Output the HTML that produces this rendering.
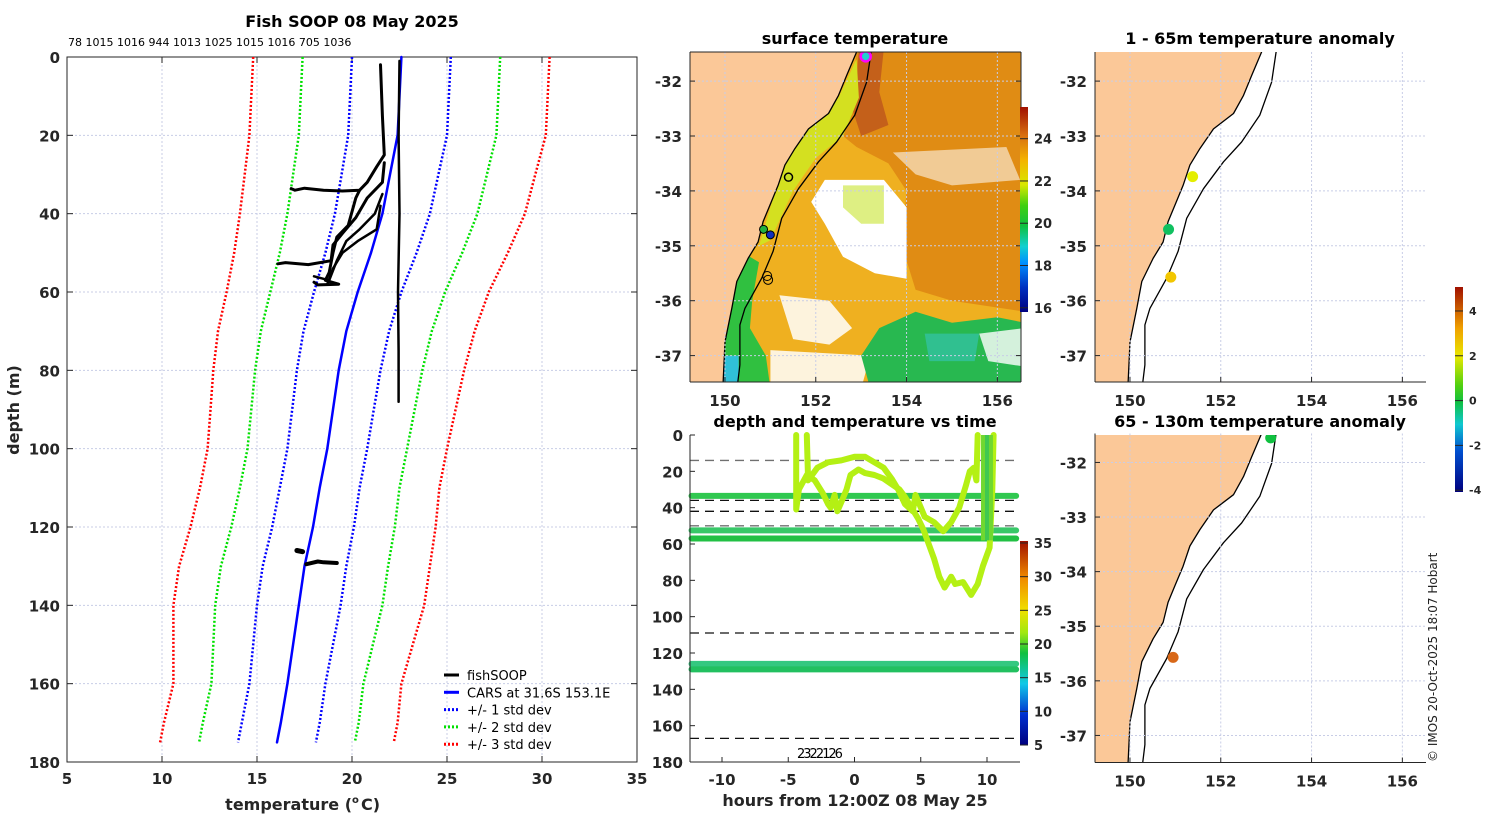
<!DOCTYPE html>
<html><head><meta charset="utf-8"><style>
html,body{margin:0;padding:0;background:#fff;}
svg{display:block;font-family:"DejaVu Sans","Liberation Sans",sans-serif;}
.tk{font-size:15px;font-weight:bold;fill:#262626;}
.ttl{font-size:16px;font-weight:bold;fill:#000;}
.cb{font-size:13px;font-weight:bold;fill:#262626;}
</style></head><body>
<svg id="fig" width="1500" height="820" viewBox="0 0 1500 820" xmlns="http://www.w3.org/2000/svg">
<defs>
<linearGradient id="gSST" x1="0" y1="1" x2="0" y2="0">
<stop offset="0" stop-color="#00007f"/><stop offset="0.12" stop-color="#0030c0"/><stop offset="0.24" stop-color="#0090ff"/><stop offset="0.32" stop-color="#10d0d0"/><stop offset="0.42" stop-color="#10c040"/><stop offset="0.52" stop-color="#40d010"/><stop offset="0.62" stop-color="#d8e800"/><stop offset="0.74" stop-color="#f4b400"/><stop offset="0.86" stop-color="#d87010"/><stop offset="1" stop-color="#a01000"/></linearGradient>
<linearGradient id="gTime" x1="0" y1="1" x2="0" y2="0">
<stop offset="0" stop-color="#00007f"/><stop offset="0.15" stop-color="#0030d0"/><stop offset="0.3" stop-color="#10c8e8"/><stop offset="0.45" stop-color="#10c040"/><stop offset="0.55" stop-color="#a0e810"/><stop offset="0.66" stop-color="#f0e000"/><stop offset="0.82" stop-color="#f08a00"/><stop offset="1" stop-color="#a01000"/></linearGradient>
<linearGradient id="gAno" x1="0" y1="1" x2="0" y2="0">
<stop offset="0" stop-color="#00007f"/><stop offset="0.2" stop-color="#0050d0"/><stop offset="0.33" stop-color="#10c8d0"/><stop offset="0.44" stop-color="#10c040"/><stop offset="0.52" stop-color="#50d010"/><stop offset="0.66" stop-color="#e8e800"/><stop offset="0.8" stop-color="#f0a000"/><stop offset="1" stop-color="#a01000"/></linearGradient>
<clipPath id="clipMid"><rect x="690" y="52" width="331" height="330"/></clipPath>
<clipPath id="clipR1"><rect x="1095" y="52" width="331" height="330"/></clipPath>
<clipPath id="clipR2"><rect x="1095" y="435" width="331" height="328"/></clipPath>
</defs>
</svg>
<script>
// ---------- data ----------
const depths=[0,10,20,30,40,50,60,70,80,90,100,110,120,130,140,150,160,170,175];
const carsMean=[22.6,22.5,22.4,22.0,21.6,21.0,20.3,19.7,19.3,19.0,18.7,18.3,17.95,17.5,17.2,16.9,16.6,16.25,16.05];
const carsStd=[2.6,2.6,2.6,2.55,2.5,2.4,2.3,2.25,2.2,2.15,2.1,2.1,2.15,2.2,2.2,2.1,2.0,2.05,2.05];
const prof1T=[22.5,22.45,22.5,22.42,22.45,22.45];
const prof1D=[1,20,40,60,75,88];
const prof2T=[21.5,21.6,21.7,21.3,20.8,20.4,19.5,18.5,17.5,17.0,16.8];
const prof2D=[2,15,25,28,32,34,34.2,34,33.5,34,33.6];
const prof3T=[20.4,20.2,19.8,19.2,19.0,18.8,18.6,19.3,18.2,18.0];
const prof3D=[34,36,43,46,50,55,57,58,58.2,57.5];
const prof4T=[21.7,21.6,20.8,20.2,19.5,19.0,18.9,17.7,16.5,16.1];
const prof4D=[27,32,36,41,45,48,52,53,52.5,52.8];
const prof5T=[21.6,21.2,20.4,19.7,19.2,18.8,18.0];
const prof5D=[35,40,44,47,52,57,56];
const prof6T=[21.5,21.3,20.3,19.5,19.0,18.7];
const prof6D=[38,44,47,50,54,58];
const prof7T=[17.1,17.4];
const prof7D=[126,126.3];
const prof8T=[17.6,18.2,18.5,19.2];
const prof8D=[129.5,128.8,129,129.2];
// time panel
const bandDepths=[33.5,52.5,57,126,129];
const bandColors=['#30c850','#38c868','#22c044','#34c880','#22c060'];
const dashDepths=[14,36,42,50,109,167];
const dashGrey=[true,false,false,true,false,false];
const traceAT=[-4.4,-4.4,-4.2,-3.6,-3.0,-2.4,-2.0,-1.8,-1.5,-1.3,-1.0,-0.6,-0.3,0.3,0.8,1.5,2.2,2.8,3.4,3.8,4.3,4.8,5.2,5.6,6.0,6.4,6.8,7.3,7.6,8.2,8.8,9.3,9.7,10.2,10.4,10.5];
const traceAD=[0,41,30,22,25,32,38,40,33,42,37,30,22,19,21,22,24,27,30,34,40,46,52,60,68,78,84,78,82,81,88,82,72,62,30,0];
const traceBT=[-3.6,-3.5,-2.8,-2.0,-1.0,0.0,0.8,1.5,2.2,2.8,3.3,3.8,4.4,4.6,5.3,6.0,6.7,7.3,7.9,8.4,8.7,9.0,9.2,9.3];
const traceBD=[0,25,18,15,14,12,12,15,18,24,30,38,42,33,45,48,53,48,40,28,20,18,25,0];
const timeTicks=[-10,-5,0,5,10];
const depthTicks=[0,20,40,60,80,100,120,140,160,180];
const tempTicks=[5,10,15,20,25,30,35];
// maps
const coastLon=[152.90,152.68,152.50,152.28,151.84,151.54,151.32,151.17,150.99,150.84,150.73,150.51,150.26,150.15,150.0,149.96];
const coastLat=[-31.47,-31.9,-32.26,-32.59,-32.87,-33.23,-33.53,-33.9,-34.26,-34.56,-34.93,-35.23,-35.65,-36.14,-36.75,-37.5];
const isoLon=[153.22,153.12,152.86,152.46,152.06,151.62,151.25,151.06,150.81,150.44,150.33,150.33,150.28];
const isoLat=[-31.47,-32.02,-32.62,-33.11,-33.47,-33.96,-34.5,-35.1,-35.59,-36.14,-36.44,-37.17,-37.5];
const lonTicks=[150,152,154,156];
const latTicks=[-32,-33,-34,-35,-36,-37];
const ano1Lon=[151.38,150.85,150.9];
const ano1Lat=[-33.74,-34.7,-35.57];
const ano1Col=['#e4ee00','#10c060','#f2c600'];
const ano2Lon=[153.1,150.95];
const ano2Lat=[-31.55,-35.57];
const ano2Col=['#10c040','#d86818'];

// ---------- helpers ----------
const NS='http://www.w3.org/2000/svg';
const fig=document.getElementById('fig');
function mk(tag,parent){const e=document.createElementNS(NS,tag);(parent||fig).appendChild(e);return e;}
function txt(parent,x,y,s,cls,anchor){const t=mk('text',parent);t.setAttribute('x',x);t.setAttribute('y',y);t.setAttribute('class',cls);if(anchor)t.setAttribute('text-anchor',anchor);t.textContent=s;return t;}
function line(parent,x1,y1,x2,y2,st,w,da){const l=mk('line',parent);l.setAttribute('x1',x1);l.setAttribute('y1',y1);l.setAttribute('x2',x2);l.setAttribute('y2',y2);l.setAttribute('stroke',st);l.setAttribute('stroke-width',w||1);if(da)l.setAttribute('stroke-dasharray',da);return l;}
function poly(parent,pts,st,w,fill,da){const p=mk('polyline',parent);p.setAttribute('points',pts.map(q=>q[0].toFixed(1)+','+q[1].toFixed(1)).join(' '));p.setAttribute('stroke',st);p.setAttribute('stroke-width',w);p.setAttribute('fill',fill||'none');p.setAttribute('stroke-linejoin','round');p.setAttribute('stroke-linecap','round');if(da)p.setAttribute('stroke-dasharray',da);return p;}

// ---------- main profile panel ----------
const mx=t=>67+(t-5)*19, my=d=>57+d*705/180;
const gMain=mk('g');


let t=txt(gMain,352,27,'Fish SOOP 08 May 2025','ttl','middle');


t=txt(gMain,68,46,'78 1015 1016 944 1013 1025 1015 1016 705 1036','x','start');
t.setAttribute('style','font-size:11px;fill:#000');


tempTicks.forEach(v=>{ if(v>5&&v<35) line(gMain,mx(v),57,mx(v),762,'#c8cde6',1,'2,2');
  line(gMain,mx(v),762,mx(v),756,'#262626',1);line(gMain,mx(v),57,mx(v),63,'#262626',1);
  const l=txt(gMain,mx(v),784,String(v),'tk','middle');
  
  });
depthTicks.forEach(v=>{ if(v>0&&v<180) line(gMain,67,my(v),637,my(v),'#c8cde6',1,'2,2');
  line(gMain,67,my(v),73,my(v),'#262626',1);line(gMain,637,my(v),631,my(v),'#262626',1);
  const l=txt(gMain,60,my(v)+6,String(v),'tk','end');
  
  });
const box=mk('rect',gMain);box.setAttribute('x',67);box.setAttribute('y',57);box.setAttribute('width',570);box.setAttribute('height',705);box.setAttribute('fill','none');box.setAttribute('stroke','#262626');
t=txt(gMain,352,810,'temperature (','tk','end');t.setAttribute('style','font-size:16px');


t=txt(gMain,352,810,'o','tk','start');t.setAttribute('style','font-size:10px');t.setAttribute('dy','-7');
t=txt(gMain,361,810,' C)','tk','start');t.setAttribute('style','font-size:16px');
t=txt(gMain,0,0,'depth (m)','tk','middle');t.setAttribute('style','font-size:16px');t.setAttribute('transform','translate(19,410) rotate(-90)');


[[3,'#ff0000','std3'],[2,'#00e000','std2'],[1,'#0000ff','std1']].forEach(([k,c,n])=>{
  [-1,1].forEach(s=>{const p=poly(gMain,depths.map((d,i)=>[mx(carsMean[i]+s*k*carsStd[i]),my(d)]),c,2.5,'none','2,2');
  p.setAttribute('stroke-linecap','butt');
  
  });
});
let cm=poly(gMain,depths.map((d,i)=>[mx(carsMean[i]),my(d)]),'#0000ff',2.5);


[[prof1T,prof1D,2.5],[prof2T,prof2D,3],[prof3T,prof3D,3],[prof4T,prof4D,3],[prof5T,prof5D,2.5],[prof6T,prof6D,2.5],[prof7T,prof7D,5],[prof8T,prof8D,4]].forEach(([T,D,w],i)=>{
  const p=poly(gMain,T.map((v,j)=>[mx(v),my(D[j])]),'#000',w);
  
  });
const leg=mk('g');


[['fishSOOP','#000',null],['CARS at 31.6S 153.1E','#0000ff',null],['+/- 1 std dev','#0000ff','2,2'],['+/- 2 std dev','#00e000','2,2'],['+/- 3 std dev','#ff0000','2,2']].forEach((e,i)=>{
  const y=675+i*17.3;const l=line(leg,444,y,459,y,e[1],3,e[2]);
  
  
  const tt=txt(leg,467,y+5,e[0],'x','start');tt.setAttribute('style','font-size:13px;fill:#000');
  
  });

// ---------- map helpers ----------
const lonX=(lon,x0)=>x0+(lon-149.23)*45.4;
const latY=(lat,y0,s)=>y0+(-31.47-lat)*(s||54.9);
function pg(parent,pts,fill,x0,y0,s,op){const p=mk('polygon',parent);p.setAttribute('points',pts.map(q=>lonX(q[0],x0).toFixed(1)+','+latY(q[1],y0,s).toFixed(1)).join(' '));p.setAttribute('fill',fill);if(op)p.setAttribute('fill-opacity',op);return p;}
function mapFrame(g,x0,y0,s,h,isMid){
  const land=[[149.0,-31.47]].concat(coastLon.map((v,i)=>[v,coastLat[i]])).concat([[149.0,-37.6]]);
  const L=pg(g,land,'#fbc898',x0,y0,s);
  
  
  const c=poly(g,coastLon.map((v,i)=>[lonX(v,x0),latY(coastLat[i],y0,s)]),'#000',1.3);
  
  
  const iso=poly(g,isoLon.map((v,i)=>[lonX(v,x0),latY(isoLat[i],y0,s)]),'#000',1.3);
  
  
}
function mapAxes(parent,x0,y0,s,h,box){
  lonTicks.forEach(v=>{const x=lonX(v,x0);line(parent,x,y0,x,y0+h,'#c8cde6',1,'2,2');line(parent,x,y0+h,x,y0+h-5,'#262626',1);
    const l=txt(parent,x,y0+h+24,String(v),'tk','middle');
    
    });
  latTicks.forEach(v=>{const y=latY(v,y0,s);line(parent,x0,y,x0+331,y,'#c8cde6',1,'2,2');line(parent,x0,y,x0+5,y,'#262626',1);
    if(box) line(parent,x0+331,y,x0+326,y,'#262626',1);
    const l=txt(parent,x0-8,y+6,String(v),'tk','end');
    
    });
  line(parent,x0,y0,x0,y0+h,'#262626',1);line(parent,x0,y0+h,x0+331,y0+h,'#262626',1);
  if(box){line(parent,x0,y0,x0+331,y0,'#262626',1);line(parent,x0+331,y0,x0+331,y0+h,'#262626',1);}
}

// ---------- SST map ----------
const gS=mk('g');


t=txt(gS,855,44,'surface temperature','ttl','middle');


const gSc=mk('g',gS);gSc.setAttribute('clip-path','url(#clipMid)');
const X0=690,Y0=52;
pg(gSc,[[149,-31.4],[156.6,-31.4],[156.6,-37.6],[149,-37.6]],'#efb020',X0,Y0);
pg(gSc,[[152.9,-31.4],[156.6,-31.4],[156.6,-36.2],[155,-36.0],[154.2,-35.8],[153.9,-35.0],[154.0,-34.0],[153.6,-33.5],[152.9,-33.2],[152.6,-33.0],[152.8,-32.3]],'#e08c14',X0,Y0);
pg(gSc,[[152.95,-31.4],[153.5,-31.4],[153.4,-32.2],[153.6,-32.8],[153.0,-33.0],[152.8,-32.5],[152.9,-32.0]],'#c4601a',X0,Y0);
pg(gSc,[[152.9,-31.6],[152.5,-32.3],[151.8,-32.9],[151.3,-33.5],[151.0,-34.3],[150.75,-35.0],[151.0,-34.9],[151.5,-34.0],[152.0,-33.4],[152.6,-33.0],[152.95,-32.3]],'#d4e020',X0,Y0);
pg(gSc,[[153.7,-33.3],[156.2,-33.2],[156.5,-33.8],[155.0,-33.9],[154.2,-33.7]],'#ffffff',X0,Y0,null,0.55);
pg(gSc,[[152.2,-33.8],[153.5,-33.8],[154.0,-34.3],[154.0,-35.6],[153.3,-35.5],[152.6,-35.2],[152.2,-34.6],[151.9,-34.2]],'#ffffff',X0,Y0);
pg(gSc,[[152.6,-33.9],[153.5,-33.9],[153.5,-34.6],[153.0,-34.6],[152.6,-34.3]],'#c8e430',X0,Y0,null,0.6);
pg(gSc,[[151.2,-35.9],[152.3,-36.0],[152.8,-36.5],[152.3,-36.8],[151.5,-36.7]],'#ffffff',X0,Y0,null,0.85);
pg(gSc,[[151.0,-36.9],[153.2,-37.0],[153.0,-37.6],[151.0,-37.6]],'#ffffff',X0,Y0,null,0.85);
pg(gSc,[[150.35,-35.1],[150.75,-35.3],[150.6,-36.0],[150.55,-36.5],[150.9,-37.0],[151.0,-37.6],[149.9,-37.6],[150.0,-36.5]],'#30c040',X0,Y0);
pg(gSc,[[153.4,-36.5],[154.2,-36.2],[155.0,-36.4],[156.0,-36.3],[156.6,-36.4],[156.6,-37.6],[153.2,-37.6],[153.0,-37.0]],'#28b850',X0,Y0);
pg(gSc,[[154.4,-36.6],[155.6,-36.6],[155.5,-37.1],[154.5,-37.1]],'#30c090',X0,Y0);
pg(gSc,[[155.6,-36.6],[156.6,-36.5],[156.6,-37.2],[155.8,-37.1]],'#ffffff',X0,Y0,null,0.8);
pg(gSc,[[149.95,-37.0],[150.3,-37.0],[150.3,-37.6],[149.95,-37.6]],'#30c0d8',X0,Y0);
mapFrame(gSc,X0,Y0,54.9,330,true);
[[153.1,-31.55,'#20d0d0','#ff00ff',2.5,5],[151.4,-33.75,'#c8e020','#000',1.5,4],[150.85,-34.7,'#20b040','#000',1,4],[151.0,-34.8,'#1030c0','#000',1,4],[150.93,-35.55,'none','#000',1,4.5],[150.95,-35.62,'none','#000',1,4.5]].forEach(c=>{
  const e=mk('circle',gSc);e.setAttribute('cx',lonX(c[0],X0));e.setAttribute('cy',latY(c[1],Y0));e.setAttribute('r',c[5]);e.setAttribute('fill',c[2]);e.setAttribute('stroke',c[3]);e.setAttribute('stroke-width',c[4]);
  
  });
mapAxes(gS,X0,Y0,54.9,330,true);
const sstTicks=[16,18,20,22,24];
const cbS=v=>312-(v-15.8)*205/9.7;
let r=mk('rect',gS);r.setAttribute('x',1020);r.setAttribute('y',107);r.setAttribute('width',8);r.setAttribute('height',205);r.setAttribute('fill','url(#gSST)');


sstTicks.forEach(v=>{line(gS,1020,cbS(v),1028,cbS(v),'#262626',1);const l=txt(gS,1034,cbS(v)+5,String(v),'cb','start');
  
  });

// ---------- time panel ----------
const tx=h=>854.5+h*13.25, ty=d=>435+d*327/180;
const gT=mk('g');


t=txt(gT,855,427,'depth and temperature vs time','ttl','middle');


dashDepths.forEach((d,i)=>{const l=line(gT,690,ty(d),1020,ty(d),dashGrey[i]?'#707070':'#111',1.3,'9,6');
  
  });
bandDepths.forEach((d,i)=>{const l=line(gT,tx(-12.3),ty(d),tx(12.2),ty(d),bandColors[i],6);l.setAttribute('stroke-linecap','round');
  
  });
[[traceAT,traceAD],[traceBT,traceBD]].forEach(([T,D],i)=>{const p=poly(gT,T.map((v,j)=>[tx(v),ty(D[j])]),'#b4f014',6);
  
  });
[9.7,10.0,10.3].forEach((h,i)=>{const l=line(gT,tx(h),ty(0),tx(h),ty(58),i==1?'#40c850':'#70d830',4);
  
  });
t=txt(gT,797,758,'2322126','x','start');t.setAttribute('style','font-size:13px;fill:#000;letter-spacing:-2px');
line(gT,690,435,690,762,'#262626',1);line(gT,690,762,1020,762,'#262626',1);
timeTicks.forEach(v=>{line(gT,tx(v),762,tx(v),757,'#262626',1);const l=txt(gT,tx(v),785,String(v),'tk','middle');
  
  });
depthTicks.forEach(v=>{line(gT,690,ty(v),695,ty(v),'#262626',1);const l=txt(gT,683,ty(v)+6,String(v),'tk','end');
  
  });
t=txt(gT,855,806,'hours from 12:00Z 08 May 25','tk','middle');t.setAttribute('style','font-size:16px');


const tcTicks=[5,10,15,20,25,30,35];
const cbT=v=>745-(v-5)*202/30;
r=mk('rect',gT);r.setAttribute('x',1020);r.setAttribute('y',541);r.setAttribute('width',8);r.setAttribute('height',204);r.setAttribute('fill','url(#gTime)');


tcTicks.forEach(v=>{line(gT,1020,cbT(v),1028,cbT(v),'#262626',1);const l=txt(gT,1034,cbT(v)+5,String(v),'cb','start');
  
  });

// ---------- anomaly maps ----------
function anoMap(name,title,ty0,yAx,s,h,clip,LON,LAT,COL){
  const g=mk('g');
  
  
  const tt=txt(g,1260,yAx-8,title,'ttl','middle');
  
  
  const gc=mk('g',g);gc.setAttribute('clip-path','url(#'+clip+')');
  mapFrame(gc,1095,ty0,s,h,false);
  LON.forEach((v,i)=>{const e=mk('circle',gc);e.setAttribute('cx',lonX(v,1095));e.setAttribute('cy',latY(LAT[i],ty0,s));e.setAttribute('r',5.5);e.setAttribute('fill',COL[i]);
    
    });
  mapAxes(g,1095,ty0,s,h,false);
}
anoMap('anomaly-map-1-65m','1 - 65m temperature anomaly',52,52,54.9,330,'clipR1',ano1Lon,ano1Lat,ano1Col);
anoMap('anomaly-map-65-130m','65 - 130m temperature anomaly',433.5,435,54.6,329,'clipR2',ano2Lon,ano2Lat,ano2Col);
const anTicks=[-4,-2,0,2,4];
const cbA=v=>492-(v+4.08)*205/9.15;
r=mk('rect');r.setAttribute('x',1455);r.setAttribute('y',287);r.setAttribute('width',8);r.setAttribute('height',205);r.setAttribute('fill','url(#gAno)');


anTicks.forEach(v=>{line(fig,1455,cbA(v),1463,cbA(v),'#262626',1);const l=txt(fig,1469,cbA(v)+4,String(v),'cb','start');l.setAttribute('style','font-size:11px');
  
  });
t=txt(fig,0,0,'© IMOS 20-Oct-2025 18:07 Hobart','x','start');t.setAttribute('style','font-size:12px;fill:#222');t.setAttribute('transform','translate(1437,762) rotate(-90)');


</script>
</body></html>
